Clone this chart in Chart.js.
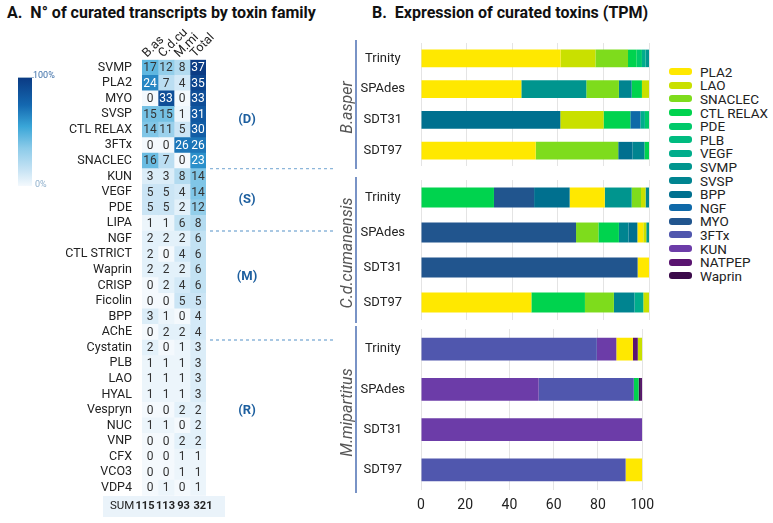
<!DOCTYPE html>
<html>
<head>
<meta charset="utf-8">
<script src="https://cdn.jsdelivr.net/npm/chart.js@4.4.1/dist/chart.umd.min.js"></script>
<style>
body { margin: 0; background: #fff; font-family: Roboto, sans-serif; }
#wrap { position: relative; width: 773px; height: 523px; overflow: hidden; }
.title { position: absolute; top: 3px; font-weight: bold; font-size: 16px; color: #111; white-space: pre; }
canvas { position: absolute; }
#legend { position: absolute; left: 669px; top: 65px; font-size: 13.5px; color: #222; }
.item { height: 13.6px; display: flex; align-items: center; }
.box { width: 23px; height: 7px; border-radius: 3px; margin-right: 8px; }
</style>
</head>
<body>
<div id="wrap">
  <div class="title" style="left:7px">A.  N° of curated transcripts by toxin family</div>
  <div class="title" style="left:372px">B.  Expression of curated toxins (TPM)</div>
  <canvas id="heat" width="340" height="523" style="left:0;top:0"></canvas>
  <canvas id="p1" width="331" height="167" style="left:330px;top:21px"></canvas>
  <canvas id="p2" width="331" height="184" style="left:330px;top:158px"></canvas>
  <canvas id="p3" width="331" height="209" style="left:330px;top:307px"></canvas>
  <div id="legend"></div>
</div>
<script>
// ---- panel A: transcript counts ----
var families = ['SVMP', 'PLA2', 'MYO', 'SVSP', 'CTL RELAX', '3FTx', 'SNACLEC', 'KUN', 'VEGF', 'PDE',
  'LIPA', 'NGF', 'CTL STRICT', 'Waprin', 'CRISP', 'Ficolin', 'BPP', 'AChE', 'Cystatin', 'PLB',
  'LAO', 'HYAL', 'Vespryn', 'NUC', 'VNP', 'CFX', 'VCO3', 'VDP4'];
var bAs   = [17, 24, 0, 15, 14, 0, 16, 3, 5, 5, 1, 2, 2, 2, 0, 0, 3, 0, 2, 1, 1, 1, 0, 1, 0, 0, 0, 0];
var cdCu  = [12, 7, 33, 15, 11, 0, 7, 3, 5, 5, 1, 2, 0, 2, 2, 0, 1, 2, 0, 1, 1, 1, 0, 1, 0, 0, 0, 1];
var mMi   = [8, 4, 0, 1, 5, 26, 0, 8, 4, 2, 6, 2, 4, 2, 4, 5, 0, 2, 1, 1, 1, 1, 2, 0, 2, 1, 1, 0];
var total = [37, 35, 33, 31, 30, 26, 23, 14, 14, 12, 8, 6, 6, 6, 6, 5, 4, 4, 3, 3, 3, 3, 2, 2, 2, 1, 1, 1];
var heatCols = ['B.as', 'C.d.cu', 'M.mi', 'Total'];
var groupNames = ['(D)', '(S)', '(M)', '(R)'];

// ---- panel B: expression, % of TPM ----
var toxins = ['PLA2', 'LAO', 'SNACLEC', 'CTL RELAX', 'PDE', 'PLB', 'VEGF', 'SVMP',
  'SVSP', 'BPP', 'NGF', 'MYO', '3FTx', 'KUN', 'NATPEP', 'Waprin'];
var toxinColors = ['#ffe800', '#c9e000', '#7edc1c', '#00d34e', '#00c96a', '#00bb80', '#00ad8c', '#00958e',
  '#008490', '#00708f', '#0f69a8', '#21558e', '#5057ae', '#6c3ca8', '#5a1470', '#3b0a4a'];
var samples = ['Trinity', 'SPAdes', 'SDT31', 'SDT97'];
//                    PLA2  LAO  SNAC  CTL  PDE  PLB VEGF SVMP SVSP  BPP  NGF  MYO 3FTx  KUN NATP Wapr
var basperTrinity = [61.2, 15.3, 14.3, 3.8, 2.3, 0, 1.6, 1.5, 0, 0, 0, 0, 0, 0, 0, 0];
var basperSPAdes  = [44, 3.1, 14.3, 4.5, 0, 0, 0, 28.5, 5.6, 0, 0, 0, 0, 0, 0, 0];
var basperSDT31   = [0, 19, 0, 11.7, 1.8, 0, 2, 0, 0, 61.1, 4.4, 0, 0, 0, 0, 0];
var basperSDT97   = [50.3, 0, 36.2, 2, 0, 0, 0, 0, 5.3, 6.2, 0, 0, 0, 0, 0, 0];
var cdcTrinity    = [15.4, 2, 4.1, 32, 0, 0, 0, 11.8, 1.5, 15.6, 0, 17.6, 0, 0, 0, 0];
var cdcSPAdes     = [2.6, 1.3, 9.8, 9, 0, 0, 0, 1.2, 4.2, 3.9, 0, 68, 0, 0, 0, 0];
var cdcSDT31      = [5, 0, 0, 0, 0, 0, 0, 0, 0, 0, 0, 95, 0, 0, 0, 0];
var cdcSDT97      = [48.4, 2.5, 12.7, 23.5, 0, 0, 3.9, 0, 9, 0, 0, 0, 0, 0, 0, 0];
var mmiTrinity    = [7.5, 2, 0, 0, 0, 0, 0, 0, 0, 0, 0, 0, 79.5, 8.8, 2.2, 0];
var mmiSPAdes     = [0, 0, 0, 2.2, 0, 0, 0, 0, 0, 0, 0, 0, 43, 53.2, 0.6, 1];
var mmiSDT31      = [0, 0, 0, 0, 0, 0, 0, 0, 0, 0, 0, 0, 0, 100, 0, 0];
var mmiSDT97      = [7.5, 0, 0, 0, 0, 0, 0, 0, 0, 0, 0, 0, 92.5, 0, 0, 0];

Chart.defaults.font.family = 'Roboto';
Chart.defaults.color = '#222';

var blueStops = [[0, '#f4f9fd'], [0.15, '#c6e3f4'], [0.35, '#8ccbe9'], [0.55, '#3aa6d8'], [0.75, '#1468b0'], [1, '#0b3b84']];

function hexRgb(h) {
    return [parseInt(h.substr(1, 2), 16), parseInt(h.substr(3, 2), 16), parseInt(h.substr(5, 2), 16)];
}

function cellColor(v) {
    var t = v / 37;
    for (var i = 1; i < blueStops.length; i++) {
        if (t <= blueStops[i][0]) {
            var a = blueStops[i - 1], b = blueStops[i];
            var f = (t - a[0]) / (b[0] - a[0]);
            var ca = hexRgb(a[1]), cb = hexRgb(b[1]);
            return 'rgb(' + ca.map(function (c, k) { return Math.round(c + (cb[k] - c) * f); }).join(',') + ')';
        }
    }
    return blueStops[blueStops.length - 1][1];
}

var heatValues = [bAs, cdCu, mMi, total];

var heatPlugin = {
    id: 'heatText',
    beforeDatasetsDraw: function (chart) {
        var c = chart.ctx;
        // SUM strip background
        c.save();
        c.fillStyle = '#eaf3fa';
        c.fillRect(103, 496, 122, 21);
        c.restore();
    },
    afterDraw: function (chart) {
        var c = chart.ctx, a = chart.chartArea, xs = chart.scales.x, ys = chart.scales.y;
        var step = ys.getPixelForValue(1) - ys.getPixelForValue(0);
        var y0 = ys.getPixelForValue(0);
        c.save();
        // cell numbers
        c.font = '12px Roboto';
        c.textAlign = 'center';
        c.textBaseline = 'middle';
        heatValues.forEach(function (col, j) {
            var cx = xs.getPixelForValue(j + 0.5);
            col.forEach(function (v, i) {
                c.fillStyle = v >= 20 ? '#fff' : '#333';
                c.fillText(String(v), cx, ys.getPixelForValue(i) + 0.5);
            });
        });
        // column headers
        c.font = '12.5px Roboto';
        c.fillStyle = '#222';
        c.textAlign = 'left';
        c.textBaseline = 'alphabetic';
        heatCols.forEach(function (name, j) {
            c.save();
            c.translate(xs.getPixelForValue(j + 0.5) - 3, a.top - 2);
            c.rotate(-Math.PI / 4);
            c.fillText(name, 0, 0);
            c.restore();
        });
        // SUM row
        var sy = 506;
        c.textBaseline = 'middle';
        c.font = '11.5px Roboto';
        c.fillText('SUM', 110, sy);
        c.font = 'bold 11px Roboto';
        c.textAlign = 'center';
        var shift = [-5, -0.5, 1.5, 5];
        heatValues.forEach(function (col, j) {
            var s = col.reduce(function (p, q) { return p + q; }, 0);
            c.fillText(String(s), xs.getPixelForValue(j + 0.5) + shift[j], sy);
        });
        // group separators and labels
        c.strokeStyle = '#8db6da';
        c.lineWidth = 1.3;
        c.setLineDash([3, 3]);
        [7, 11, 18].forEach(function (b) {
            var yy = y0 - step / 2 + b * step;
            c.beginPath();
            c.moveTo(210, yy);
            c.lineTo(336, yy);
            c.stroke();
        });
        c.setLineDash([]);
        c.font = 'bold 13px Roboto';
        c.fillStyle = '#1d5f9f';
        c.textAlign = 'center';
        [3.37, 8.51, 13.46, 22.06].forEach(function (r, k) {
            c.fillText(groupNames[k], 247, y0 + r * step);
        });
        // colour bar
        var g = c.createLinearGradient(0, 186, 0, 78);
        blueStops.forEach(function (s) { g.addColorStop(s[0], s[1]); });
        c.fillStyle = g;
        c.fillRect(18, 78, 14, 108);
        c.strokeStyle = '#9fb7cf';
        c.lineWidth = 1;
        c.beginPath();
        c.moveTo(18, 77.5);
        c.lineTo(34, 77.5);
        c.stroke();
        c.font = '9px Roboto';
        c.textAlign = 'left';
        c.fillStyle = '#3d6fa8';
        c.fillText('100%', 33, 76);
        c.fillStyle = '#8fb0cc';
        c.fillText('0%', 35, 185);
        c.restore();
    }
};

new Chart(document.getElementById('heat'), {
    type: 'bar',
    data: {
        labels: families,
        datasets: heatValues.map(function (col, j) {
            return {
                label: heatCols[j],
                data: col.map(function () { return 1; }),
                backgroundColor: col.map(cellColor),
                barPercentage: 1,
                categoryPercentage: 1,
                borderWidth: 0
            };
        })
    },
    options: {
        indexAxis: 'y',
        responsive: false,
        animation: false,
        layout: { padding: { top: 59.7, bottom: 27.3, left: 0, right: 134 } },
        scales: {
            x: { stacked: true, min: 0, max: 4, display: false },
            y: {
                stacked: true,
                grid: { display: false },
                border: { display: false },
                ticks: { font: { size: 12.5 }, color: '#222', padding: 2, autoSkip: false },
                afterFit: function (s) { s.width = 142; }
            }
        },
        plugins: { legend: { display: false }, tooltip: { enabled: false } }
    },
    plugins: [heatPlugin]
});

// ---- panel B ----
function stackedSets(rows) {
    var sorted = rows.map(function (r) {
        return r.map(function (v, k) { return { v: v, k: k }; })
            .filter(function (o) { return o.v > 0; })
            .sort(function (a, b) { return b.v - a.v; });
    });
    var n = Math.max.apply(null, sorted.map(function (s) { return s.length; }));
    var sets = [];
    for (var j = 0; j < n; j++) {
        sets.push({
            data: sorted.map(function (s) { return s[j] ? s[j].v : 0; }),
            backgroundColor: sorted.map(function (s) { return s[j] ? toxinColors[s[j].k] : 'rgba(0,0,0,0)'; }),
            barPercentage: 0.57,
            categoryPercentage: 1,
            borderWidth: 0
        });
    }
    return sets;
}

function makePanel(id, species, rows, showTicks) {
    var speciesPlugin = {
        id: 'species',
        afterDraw: function (chart) {
            var a = chart.chartArea, c = chart.ctx;
            c.save();
            c.strokeStyle = '#4d6fb3';
            c.lineWidth = 1.5;
            c.beginPath();
            c.moveTo(a.left - 65, a.top - 3);
            c.lineTo(a.left - 65, a.bottom + 3);
            c.stroke();
            c.translate(a.left - 73, (a.top + a.bottom) / 2 + 3);
            c.rotate(-Math.PI / 2);
            c.font = 'italic 16px Roboto';
            c.fillStyle = '#555';
            c.textAlign = 'center';
            c.textBaseline = 'middle';
            c.fillText(species, 0, 0);
            c.restore();
        }
    };
    return new Chart(document.getElementById(id), {
        type: 'bar',
        data: { labels: samples, datasets: stackedSets(rows) },
        options: {
            indexAxis: 'y',
            responsive: false,
            animation: false,
            layout: { padding: { top: 22, bottom: showTicks ? 2 : 22, left: 0, right: 12 } },
            scales: {
                x: {
                    stacked: true,
                    min: 0,
                    max: 100,
                    grid: { color: '#e4e4e4', drawTicks: false },
                    border: { display: false },
                    ticks: { display: showTicks, stepSize: 20, padding: 7, font: { size: 14 }, color: '#222' },
                    afterFit: function (s) { s.height = showTicks ? 24 : 0; }
                },
                y: {
                    stacked: true,
                    grid: { display: false },
                    border: { display: false },
                    ticks: { font: { size: 13 }, color: '#222', padding: 8, crossAlign: 'center' },
                    afterFit: function (s) { s.width = 91; }
                }
            },
            plugins: { legend: { display: false }, tooltip: { enabled: false } }
        },
        plugins: [speciesPlugin]
    });
}

makePanel('p1', 'B.asper', [basperTrinity, basperSPAdes, basperSDT31, basperSDT97], false);
makePanel('p2', 'C.d.cumanensis', [cdcTrinity, cdcSPAdes, cdcSDT31, cdcSDT97], false);
makePanel('p3', 'M.mipartitus', [mmiTrinity, mmiSPAdes, mmiSDT31, mmiSDT97], true);

// legend
var leg = document.getElementById('legend');
toxins.forEach(function (t, k) {
    var d = document.createElement('div');
    d.className = 'item';
    d.innerHTML = '<span class="box" style="background:' + toxinColors[k] + '"></span>' + t;
    leg.appendChild(d);
});
</script>
</body>
</html>
